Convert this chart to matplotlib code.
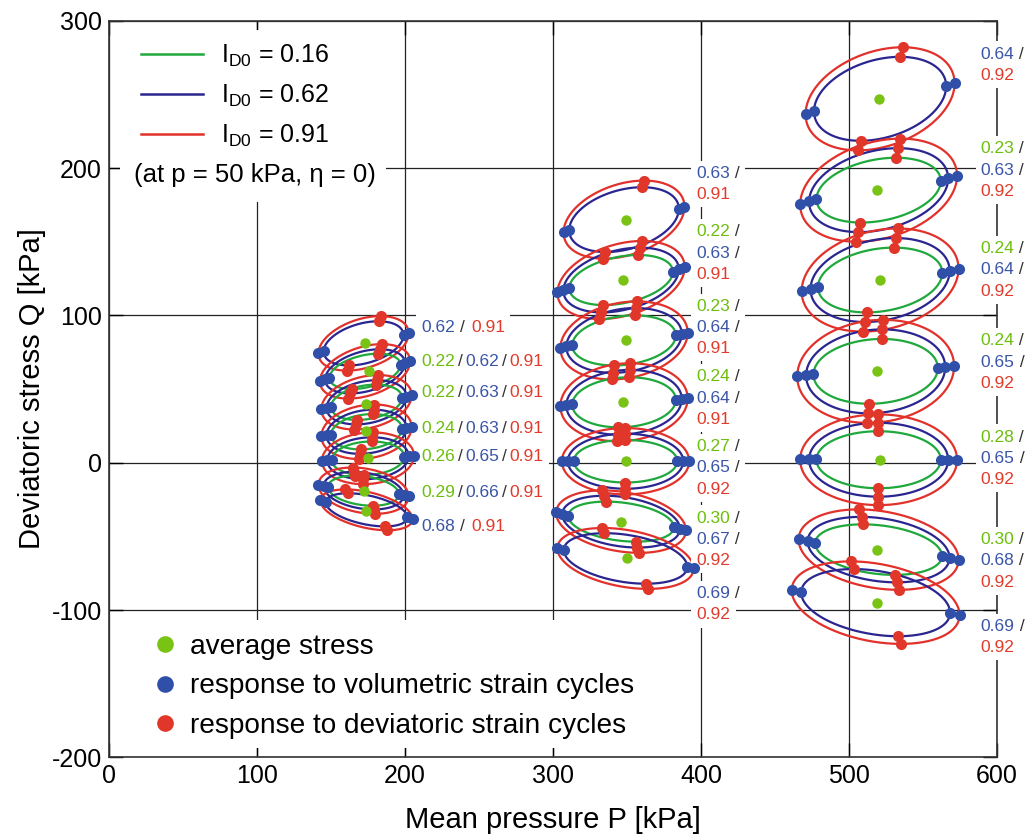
import numpy as np
import matplotlib
matplotlib.use("Agg")
import matplotlib.pyplot as plt
from matplotlib.lines import Line2D
from matplotlib.patches import Rectangle

plt.rcParams["font.family"] = ["Liberation Sans", "DejaVu Sans"]
plt.rcParams["mathtext.fontset"] = "custom"
plt.rcParams["mathtext.rm"] = "Liberation Sans"
plt.rcParams["mathtext.it"] = "Liberation Sans:italic"
plt.rcParams["axes.unicode_minus"] = False

# ── Data ──────────────────────────────────────────────────────────────────────
# three stacks of stress loops (P ~ 175, 350, 520 kPa), seven loops each, top to bottom
# half widths / half heights for the green, blue, red loops of every stack
s1_P = [172, 173, 174, 174, 175, 172, 174]
s1_Q = [81, 62, 41, 21, 3, -19, -32]
s1_tilt = [0.37, 0.37, 0.26, 0.17, 0.1, -0.25, -0.45]
s1_hscale = [1.0, 1.0, 1.0, 1.0, 0.95, 0.85, 0.75]
s1_wscale = [1.0, 1.0, 1.0, 1.0, 1.02, 1.0, 1.02]
s1_halfwidth = [24, 27, 30.5]
s1_halfheight = [12, 15, 18.5]
s1_avgP = [173, 176, 174, 174, 175, 172, 174]
s1_avgQ = [81, 62, 40, 21.5, 3, -19.5, -32.5]

s2_P = [348, 346, 348, 348, 349, 346, 349]
s2_Q = [165, 124, 83, 41, 1, -40, -65]
s2_tilt = [0.33, 0.33, 0.2, 0.1, 0.0, -0.28, -0.33]
s2_hscale = [1.0, 1.0, 1.0, 1.0, 0.85, 0.8, 0.78]
s2_wscale = [0.95, 1.0, 1.0, 1.0, 1.0, 1.02, 1.07]
s2_halfwidth = [35, 39, 43]
s2_halfheight = [17, 22, 26.5]
s2_avgP = [349, 347, 349, 347, 349, 346, 350]
s2_avgQ = [165, 124, 83, 41, 1, -40, -65]

s3_P = [521, 520, 521, 518, 520, 520, 518]
s3_Q = [247, 185, 124, 62, 2, -59, -95]
s3_tilt = [0.3, 0.28, 0.22, 0.1, 0.0, -0.25, -0.3]
s3_hscale = [1.0, 1.0, 1.0, 1.0, 0.88, 0.78, 0.8]
s3_wscale = [0.95, 1.0, 1.0, 1.0, 1.0, 1.02, 1.07]
s3_halfwidth = [42, 47, 53]
s3_halfheight = [22, 28.5, 35]
s3_avgP = [520, 519, 521, 519, 521, 519, 519]
s3_avgQ = [247, 185, 124, 62, 2, -59, -95]

# which loops have an I_D0 = 0.16 (green) curve
has_green = [False, True, True, True, True, True, False]

# density labels beside each loop (green / blue / red)
s1_lab_g = [None, "0.22", "0.22", "0.24", "0.26", "0.29", None]
s1_lab_b = ["0.62", "0.62", "0.63", "0.63", "0.65", "0.66", "0.68"]
s1_lab_r = ["0.91"] * 7
s1_lab_P = 211
s1_lab_Q = [92, 69, 47.5, 23.5, 4.5, -20.5, -43.3]

s2_lab_g = [None, "0.22", "0.23", "0.24", "0.27", "0.30", None]
s2_lab_b = ["0.63", "0.63", "0.64", "0.64", "0.65", "0.67", "0.69"]
s2_lab_r = ["0.91", "0.91", "0.91", "0.91", "0.92", "0.92", "0.92"]
s2_lab_P = 397
s2_lab_Q = [196.5, 156.6, 106.2, 58.3, 10.9, -37.6, -88.9]

s3_lab_g = [None, "0.23", "0.24", "0.24", "0.28", "0.30", None]
s3_lab_b = ["0.64", "0.63", "0.64", "0.65", "0.65", "0.68", "0.69"]
s3_lab_r = ["0.92"] * 7
s3_lab_P = 589
s3_lab_Q = [277.4, 213.1, 145.3, 82.7, 17.3, -52.3, -111.0]

legend_ids = ["0.16", "0.62", "0.91"]
legend_dots = ["average stress", "response to volumetric strain cycles",
               "response to deviatoric strain cycles"]

# ── Colours ───────────────────────────────────────────────────────────────────
LINE_COL = ["#1fa83c", "#2b2590", "#e2312b"]
DOT_COL = ["#78c314", "#2f4fa8", "#e1372a"]
TXT_COL = ["#6cbf0c", "#3a55a8", "#e33b2b"]
SLASH = "#333333"

fig = plt.figure(figsize=(10.27, 8.36), dpi=100)
ax = fig.add_axes([0.1061, 0.0941, 0.8647, 0.8811])
ax.set_xlim(0, 600)
ax.set_ylim(-200, 300)
ax.set_xticks(range(0, 601, 100))
ax.set_yticks(range(-200, 301, 100))
ax.tick_params(direction="in", top=True, right=True, length=10, width=1,
               labelsize=18, pad=5)
ax.grid(True, color="#222222", lw=0.9)
ax.set_axisbelow(True)
for sp in ax.spines.values():
    sp.set_color("#333333")
    sp.set_linewidth(1.2)

# white boxes behind the two legends (they hide the grid)
ax.add_patch(Rectangle((0.0124, 0.7535), 0.30, 0.2333, transform=ax.transAxes,
                       fc="white", ec="none", zorder=1))
ax.add_patch(Rectangle((0.0124, 0.0126), 0.62, 0.1737, transform=ax.transAxes,
                       fc="white", ec="none", zorder=1))


def loop(pc, qc, w, h, r, n=240):
    t = np.linspace(0, 2 * np.pi, n)
    p = pc + w * np.cos(t)
    q = qc + r * h * np.cos(t) + h * np.sqrt(1 - r ** 2) * np.sin(t)
    return p, q


stacks = [
    (s1_P, s1_Q, s1_tilt, s1_hscale, s1_wscale, s1_halfwidth, s1_halfheight, s1_avgP, s1_avgQ),
    (s2_P, s2_Q, s2_tilt, s2_hscale, s2_wscale, s2_halfwidth, s2_halfheight, s2_avgP, s2_avgQ),
    (s3_P, s3_Q, s3_tilt, s3_hscale, s3_wscale, s3_halfwidth, s3_halfheight, s3_avgP, s3_avgQ),
]

for P, Q, tilt, hs, ws, W, H, aP, aQ in stacks:
    vol_p, vol_q, dev_p, dev_q = [], [], [], []
    for i in range(len(P)):
        kinds = [0, 1, 2] if has_green[i] else [1, 2]
        for k in kinds:
            p, q = loop(P[i], Q[i], W[k] * ws[i], H[k] * hs[i], tilt[i])
            ax.plot(p, q, color=LINE_COL[k], lw=1.6, zorder=2)
            vol_p += [p[np.argmin(p)], p[np.argmax(p)]]
            vol_q += [q[np.argmin(p)], q[np.argmax(p)]]
            dev_p += [p[np.argmin(q)], p[np.argmax(q)]]
            dev_q += [q[np.argmin(q)], q[np.argmax(q)]]
    ax.plot(vol_p, vol_q, "o", ms=8, color=DOT_COL[1], mec="none", zorder=4)
    ax.plot(dev_p, dev_q, "o", ms=8, color=DOT_COL[2], mec="none", zorder=4)
    ax.plot(aP, aQ, "o", ms=7.5, color=DOT_COL[0], mec="none", zorder=4)

# ── Density labels ────────────────────────────────────────────────────────────
LAB_FS = 12.5
BOX = dict(boxstyle="square,pad=0.3", fc="white", ec="none")


def pieces(x, y, parts, dy=0):
    # each piece: a white box (behind) and the coloured text (in front)
    prev = None
    for txt, col, gap in parts:
        if prev is None:
            kw = dict(xy=(x, y), xytext=(0, dy), textcoords="offset points")
        else:
            kw = dict(xy=(1, 0.5), xycoords=prev, xytext=(gap, 0), textcoords="offset points")
        ax.annotate(txt, color="none", fontsize=LAB_FS, ha="left", va="center",
                    bbox=BOX, zorder=3, **kw)
        prev = ax.annotate(txt, color=col, fontsize=LAB_FS, ha="left", va="center",
                           zorder=3.5, **kw)


# stack 1: one line per loop
for i in range(7):
    if s1_lab_g[i] is None:
        parts = [(s1_lab_b[i], TXT_COL[1], 0), ("/", SLASH, 3.5), (s1_lab_r[i], TXT_COL[2], 4.5)]
    else:
        parts = [(s1_lab_g[i], TXT_COL[0], 0), ("/", SLASH, 2), (s1_lab_b[i], TXT_COL[1], 2),
                 ("/", SLASH, 2), (s1_lab_r[i], TXT_COL[2], 2)]
    pieces(s1_lab_P, s1_lab_Q[i], parts)

# stacks 2 and 3: one line per density
LINE_STEP = 15.3
for labP, labQ, lg, lb, lr in [(s2_lab_P, s2_lab_Q, s2_lab_g, s2_lab_b, s2_lab_r),
                               (s3_lab_P, s3_lab_Q, s3_lab_g, s3_lab_b, s3_lab_r)]:
    for i in range(7):
        lines = []
        if lg[i] is not None:
            lines.append([(lg[i], TXT_COL[0], 0), (" /", SLASH, 0)])
        lines.append([(lb[i], TXT_COL[1], 0), (" /", SLASH, 0)])
        lines.append([(lr[i], TXT_COL[2], 0)])
        for j, ln in enumerate(lines):
            pieces(labP, labQ[i], ln, dy=-j * LINE_STEP)

# ── Legends ───────────────────────────────────────────────────────────────────
h1 = [Line2D([], [], color=c, lw=1.8) for c in LINE_COL]
leg1 = ax.legend(h1, ["I$_{\\mathrm{D0}}$ = " + s for s in legend_ids],
                 loc="upper left", bbox_to_anchor=(0.036, 0.970), frameon=False,
                 fontsize=18, handlelength=2.5, handletextpad=0.7, labelspacing=0.55,
                 borderpad=0, borderaxespad=0)
ax.add_artist(leg1)
ax.text(0.1644, 0.7905, "(at p = 50 kPa, \u03b7 = 0)", transform=ax.transAxes,
        ha="center", va="center", fontsize=18.5, zorder=6)

h2 = [Line2D([], [], ls="none", marker="o", ms=12, mfc=c, mec="none") for c in DOT_COL]
ax.legend(h2, legend_dots, loc="upper left", bbox_to_anchor=(0.0473, 0.1674),
          frameon=False, fontsize=20.2, handlelength=1.0, handletextpad=0.4,
          labelspacing=0.48, borderpad=0, borderaxespad=0)

ax.set_xlabel("Mean pressure P [kPa]", fontsize=21, labelpad=13)
ax.set_ylabel("Deviatoric stress Q [kPa]", fontsize=21, labelpad=4)

fig.savefig("out.png", dpi=100, facecolor="white")
